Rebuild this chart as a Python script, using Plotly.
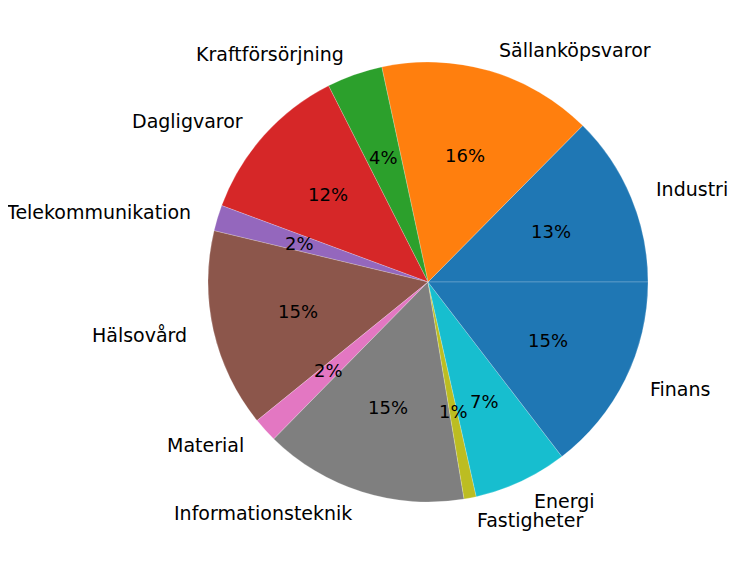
"""
Sector breakdown pie chart (matplotlib style) rebuilt with Plotly.
"""

import math
import plotly.graph_objects as go

# ==========================================
# 1. Data
# ==========================================
sectors = [
    "Industri",
    "Sällanköpsvaror",
    "Kraftförsörjning",
    "Dagligvaror",
    "Telekommunikation",
    "Hälsovård",
    "Material",
    "Informationsteknik",
    "Fastigheter",
    "Energi",
    "Finans",
]
weights = [12.6, 15.8, 4.1, 11.9, 1.9, 14.6, 1.8, 15.0, 0.9, 6.9, 14.6]
colors = [
    "#1f77b4", "#ff7f0e", "#2ca02c", "#d62728", "#9467bd", "#8c564b",
    "#e377c2", "#7f7f7f", "#bcbd22", "#17becf", "#1f77b4",
]

FONT = "DejaVu Sans"
total = sum(weights)

# ==========================================
# 2. Pie
# ==========================================
# plotly's counterclockwise pies put the END of the first slice at `rotation`,
# so shift by the first slice to start it at 3 o'clock like matplotlib
first_deg = weights[0] / total * 360

fig = go.Figure(
    go.Pie(
        labels=sectors,
        values=weights,
        marker=dict(colors=colors,
                    line=dict(width=0.6, color="rgba(255,255,255,0.35)")),
        sort=False,
        direction="counterclockwise",
        rotation=90 - first_deg,
        textinfo="none",
        hoverinfo="label+percent",
        showlegend=False,
    )
)

# matplotlib-like labels: name at 1.1 r, percentage at 0.6 r
annotations = []
start = 0.0
for name, w in zip(sectors, weights):
    mid = math.radians((start + w / 2) / total * 360)
    start += w
    c, s = math.cos(mid), math.sin(mid)
    annotations.append(dict(
        x=0.5 + 0.55 * c, y=0.5 + 0.55 * s, xref="paper", yref="paper",
        text=name, showarrow=False,
        xanchor="left" if c > 0 else "right", yanchor="middle",
        font=dict(family=FONT, size=19, color="black"),
    ))
    annotations.append(dict(
        x=0.5 + 0.3 * c, y=0.5 + 0.3 * s, xref="paper", yref="paper",
        text=f"{round(w / total * 100)}%", showarrow=False,
        xanchor="center", yanchor="middle",
        font=dict(family=FONT, size=18, color="black"),
    ))

# page body adds an 8px offset, margins compensate so the pie sits at (428, 282)
fig.update_layout(
    width=755,
    height=565,
    margin=dict(l=197, r=112, t=54, b=71),
    paper_bgcolor="white",
    plot_bgcolor="white",
    annotations=annotations,
)

fig.write_html("out.html")
